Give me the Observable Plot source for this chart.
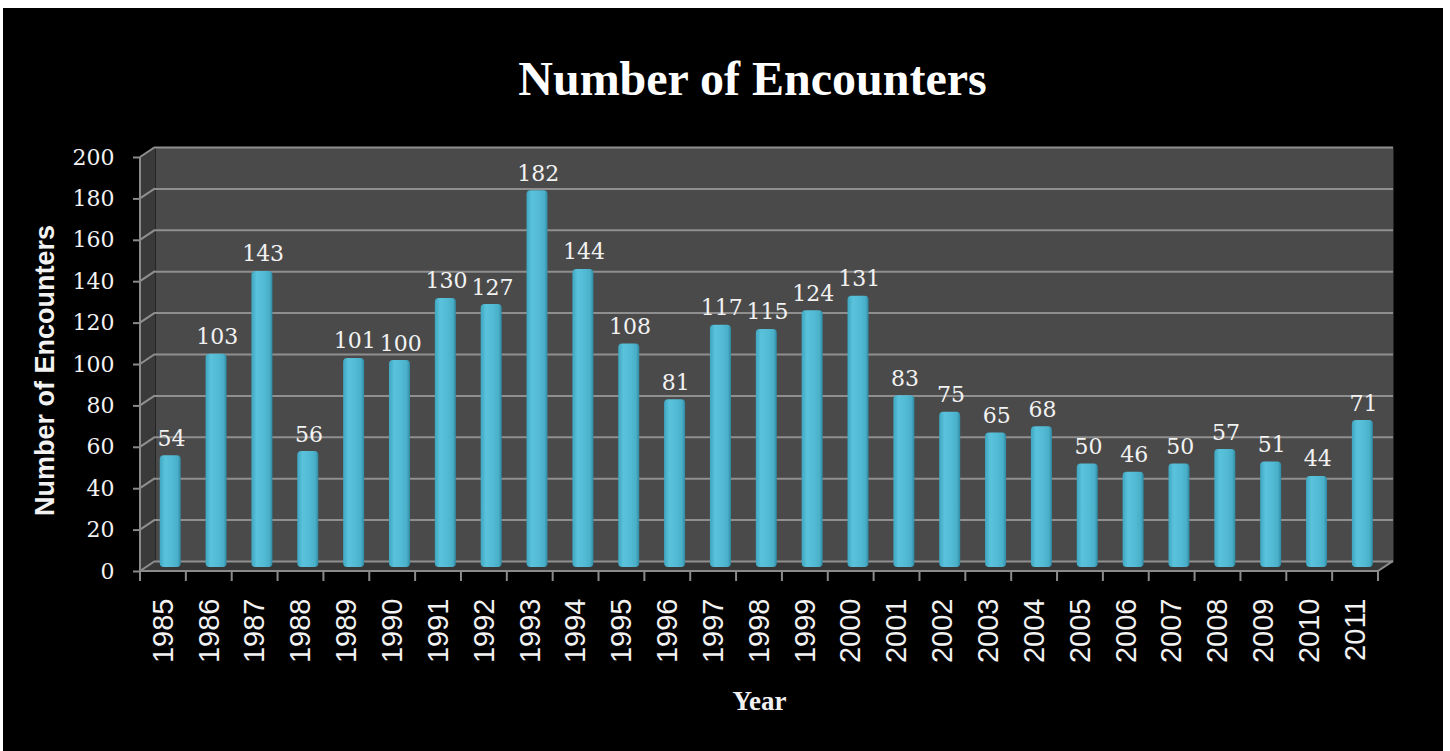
<!DOCTYPE html>
<html>
<head>
<meta charset="utf-8">
<script src="https://cdn.jsdelivr.net/npm/d3@7"></script>
<script src="https://cdn.jsdelivr.net/npm/@observablehq/plot@0.6"></script>
<style>
  html, body { margin: 0; padding: 0; background: #ffffff; }
  #wrap { position: absolute; left: 3px; top: 8px; width: 1440px; height: 743px; background: #000; overflow: hidden; }
  #title { box-sizing: border-box; width: 1440px; height: 112px; padding-top: 47px; padding-left: 59px;
    text-align: center; color: #fff; font-family: "Liberation Serif", serif; font-weight: bold;
    font-size: 48px; line-height: 48px; }
  #chart svg { display: block; overflow: visible; }
</style>
</head>
<body>
<div id="wrap">
  <div id="title">Number of Encounters</div>
  <div id="chart"></div>
</div>
<script>
const years = ["1985","1986","1987","1988","1989","1990","1991","1992","1993","1994","1995","1996","1997","1998",
  "1999","2000","2001","2002","2003","2004","2005","2006","2007","2008","2009","2010","2011"];
const values = [54,103,143,56,101,100,130,127,182,144,108,81,117,115,124,131,83,75,65,68,50,46,50,57,51,44,71];
const yTicks = [0,20,40,60,80,100,120,140,160,180,200];
const yTitle = "Number of Encounters";
const xTitle = "Year";

const data = years.map((year, i) => ({year, value: values[i]}));

const DX = 15, DY = -10;
const W = 1440, H = 631, ML = 137, MR = 65, MT = 37, MB = 180;
const BW = (W - ML - MR) / years.length;
const BAR = 21;
const INSET = (BW - BAR) / 2;
const gridColor = "#8f8f8f";

const defs = () => {
  const d = d3.create("svg:defs");
  const g = d.append("linearGradient").attr("id", "cyl").attr("x1", "0").attr("x2", "1").attr("y1", "0").attr("y2", "0");
  [["0%", "#3ea6c0"], ["25%", "#5ac2db"], ["60%", "#52bad4"], ["85%", "#4aafc9"], ["100%", "#2f8aa2"]]
    .forEach(([o, c]) => g.append("stop").attr("offset", o).attr("stop-color", c));
  return d.node();
};

const walls = (index, scales, vals, dims) => {
  const {y} = scales;
  const x0 = dims.marginLeft, x1 = dims.width - dims.marginRight;
  const y0 = y(0), yT = y(yTicks[yTicks.length - 1]);
  const g = d3.create("svg:g");
  g.append("polygon").attr("points", [[x0, yT], [x0 + DX, yT + DY], [x0 + DX, y0 + DY], [x0, y0]].join(" ")).attr("fill", "#3a3a3a");
  g.append("polygon").attr("points", [[x0, y0], [x0 + DX, y0 + DY], [x1 + DX, y0 + DY], [x1, y0]].join(" ")).attr("fill", "#383838");
  for (const t of yTicks) {
    g.append("line").attr("x1", x0).attr("y1", y(t)).attr("x2", x0 + DX).attr("y2", y(t) + DY)
      .attr("stroke", gridColor).attr("stroke-width", 2);
  }
  g.append("line").attr("x1", x1).attr("y1", y0).attr("x2", x1 + DX).attr("y2", y0 + DY)
    .attr("stroke", gridColor).attr("stroke-width", 2);
  return g.node();
};

const frontAxes = (index, scales, vals, dims) => {
  const {y} = scales;
  const x0 = dims.marginLeft, x1 = dims.width - dims.marginRight;
  const y0 = y(0), yT = y(yTicks[yTicks.length - 1]);
  const bw = (x1 - x0) / years.length;
  const g = d3.create("svg:g").attr("stroke", "#8a8a8a").attr("stroke-width", 2);
  g.append("line").attr("x1", x0).attr("y1", yT).attr("x2", x0).attr("y2", y0 + 1);
  g.append("line").attr("x1", x0).attr("y1", y0).attr("x2", x1).attr("y2", y0);
  for (let i = 0; i <= years.length; i++) {
    const xx = x0 + i * bw;
    g.append("line").attr("x1", xx).attr("y1", y0).attr("x2", xx).attr("y2", y0 + 10);
  }
  return g.node();
};

const chart = Plot.plot({
  width: W, height: H,
  marginLeft: ML, marginRight: MR, marginTop: MT, marginBottom: MB,
  style: {background: "transparent", color: "white", overflow: "visible"},
  x: {type: "band", domain: years, padding: 0, round: false, axis: null},
  y: {domain: [0, 200], axis: null},
  marks: [
    defs,
    Plot.frame({fill: "#4a4a4a", stroke: null, dx: DX, dy: DY}),
    walls,
    Plot.ruleY(yTicks, {y: d => d, dx: DX, dy: DY, stroke: gridColor, strokeWidth: 2}),
    Plot.barY(data, {x: "year", y: "value", insetLeft: INSET, insetRight: INSET, dx: 7.3, dy: -4, rx: 4, fill: "url(#cyl)"}),
    Plot.text(data, {x: "year", y: "value", text: d => String(d.value), dx: 8, dy: -14, lineAnchor: "bottom",
      fill: "#f2f2f2", fontSize: 22, fontFamily: "DejaVu Serif"}),
    frontAxes,
    Plot.axisY({ticks: yTicks, tickSize: 7, tickPadding: 19, stroke: "#8a8a8a", strokeWidth: 2, fill: "#f2f2f2",
      fontSize: 22, fontFamily: "DejaVu Serif", label: null}),
    Plot.axisX({tickSize: 0, tickPadding: 27, tickRotate: -90, fill: "#f2f2f2", fontSize: 29,
      fontFamily: "Liberation Sans", label: null}),
    Plot.text([yTitle], {frameAnchor: "left", rotate: -90, dx: -95, dy: 6, text: d => d, fill: "#f2f2f2",
      fontSize: 27, fontWeight: "bold", fontFamily: "Liberation Sans", textAnchor: "middle", lineAnchor: "middle"}),
    Plot.text([xTitle], {frameAnchor: "bottom", dy: 130, text: d => d, fill: "#f2f2f2",
      fontSize: 27, fontWeight: "bold", fontFamily: "Liberation Serif", lineAnchor: "middle"})
  ]
});
document.getElementById("chart").appendChild(chart);
</script>
</body>
</html>
